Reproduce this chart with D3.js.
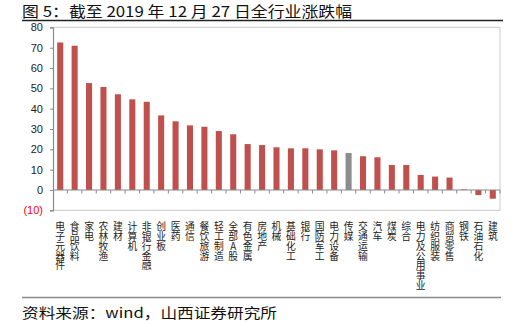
<!DOCTYPE html>
<html>
<head>
<meta charset="utf-8">
<script src="https://cdn.jsdelivr.net/npm/d3@7"></script>
<style>
  html, body { margin: 0; padding: 0; background: #fff; }
  svg { display: block; }
  .cat-label { writing-mode: vertical-rl; text-orientation: upright; }
</style>
</head>
<body>
<svg id="chart" width="517" height="324"></svg>
<script>
// Industry names, in chart order
const categories = [
  "电子元器件", "食品饮料", "家电", "农林牧渔", "建材", "计算机", "非银行金融",
  "创业板", "医药", "通信", "餐饮旅游", "轻工制造", "全部A股", "有色金属",
  "房地产", "机械", "基础化工", "银行", "国防军工", "电力设备", "传媒",
  "交通运输", "汽车", "煤炭", "综合", "电力及公用事业", "纺织服装", "商贸零售",
  "钢铁", "石油石化", "建筑"
];
// Year-to-date change (%)
const values = [
  72.6, 71.0, 52.6, 50.7, 47.1, 44.6, 43.4,
  36.7, 33.8, 31.8, 31.1, 29.0, 27.4, 22.6,
  22.1, 21.0, 20.5, 20.5, 20.0, 19.5, 18.2,
  16.6, 16.1, 12.3, 12.3, 7.4, 6.6, 6.1,
  0.3, -2.5, -4.3
];
// Category drawn in grey
const highlight = ["传媒"];
const yTicks = [-10, 0, 10, 20, 30, 40, 50, 60, 70, 80];

const titleText = "图 5：截至 2019 年 12 月 27 日全行业涨跌幅";
const sourceText = "资料来源：wind，山西证券研究所";

const svg = d3.select("#chart");
const plot = { left: 53, right: 500, top: 27.4, bottom: 210.3 };

const x = d3.scaleBand()
  .domain(categories)
  .range([plot.left, plot.right])
  .paddingInner(0.58)
  .paddingOuter(0.29);

const y = d3.scaleLinear()
  .domain([-10, 80])
  .range([plot.bottom, plot.top]);

// Title and rule
svg.append("text")
  .attr("x", 22).attr("y", 16.5)
  .attr("font-family", "'Noto Sans CJK SC', sans-serif")
  .attr("font-size", 15)
  .attr("fill", "#111")
  .attr("textLength", 330)
  .attr("lengthAdjust", "spacingAndGlyphs")
  .text(titleText);
svg.append("line")
  .attr("x1", 22).attr("x2", 503).attr("y1", 20.5).attr("y2", 20.5)
  .attr("stroke", "#222").attr("stroke-width", 1.3);

// Plot area border
svg.append("path")
  .attr("d", `M${plot.left},${y(80)}H${plot.right}V${y(-10)}H${plot.left}`)
  .attr("fill", "none")
  .attr("stroke", "#d4d4d4")
  .attr("stroke-width", 1.2);

// Bars
svg.append("g").selectAll("rect")
  .data(categories)
  .join("rect")
  .attr("x", (d) => x(d))
  .attr("width", x.bandwidth())
  .attr("y", (d, i) => y(Math.max(0, values[i])))
  .attr("height", (d, i) => Math.abs(y(values[i]) - y(0)))
  .attr("fill", (d) => highlight.includes(d) ? "#8c8c8c" : "#c0504d");

// Y axis
const yAxis = d3.axisLeft(y)
  .tickValues(yTicks)
  .tickSize(3)
  .tickPadding(7)
  .tickFormat((d) => d < 0 ? `(${Math.abs(d)})` : d);
const gy = svg.append("g")
  .attr("transform", `translate(${plot.left},0)`)
  .call(yAxis);
gy.select(".domain").attr("stroke", "#8a8a8a").attr("stroke-width", 1.2);
gy.selectAll(".tick line").attr("stroke", "#8a8a8a");
gy.selectAll(".tick text")
  .attr("font-family", "'Liberation Sans', Arial, sans-serif")
  .attr("font-size", 11)
  .attr("fill", (d) => d < 0 ? "#ff0000" : "#222");

// Zero line with ticks between categories
const zeroY = y(0);
svg.append("line")
  .attr("x1", plot.left).attr("x2", plot.right)
  .attr("y1", zeroY).attr("y2", zeroY)
  .attr("stroke", "#8a8a8a").attr("stroke-width", 1.2);
const step = x.step();
const boundaries = categories.map((d) => x(d) - (step - x.bandwidth()) / 2).concat([plot.right]);
svg.append("g").selectAll("line")
  .data(boundaries.slice(1))
  .join("line")
  .attr("x1", (d) => d).attr("x2", (d) => d)
  .attr("y1", zeroY).attr("y2", zeroY + 3.5)
  .attr("stroke", "#8a8a8a");

// Vertical category labels, characters stacked top to bottom
svg.append("g")
  .attr("font-family", "'Noto Sans CJK SC', sans-serif")
  .attr("font-size", 9.8)
  .attr("fill", "#222")
  .selectAll("text")
  .data(categories)
  .join("text")
  .attr("class", "cat-label")
  .attr("x", (d) => x(d) + x.bandwidth() / 2)
  .attr("y", 221.5)
  .text((d) => d);

// Bottom rule and source note
svg.append("line")
  .attr("x1", 22).attr("x2", 501).attr("y1", 297.5).attr("y2", 297.5)
  .attr("stroke", "#8a8a8a").attr("stroke-width", 1.3);
svg.append("text")
  .attr("x", 22).attr("y", 318)
  .attr("font-family", "'Noto Sans CJK SC', sans-serif")
  .attr("font-size", 13.5)
  .attr("fill", "#111")
  .attr("textLength", 255)
  .attr("lengthAdjust", "spacingAndGlyphs")
  .text(sourceText);
</script>
</body>
</html>
